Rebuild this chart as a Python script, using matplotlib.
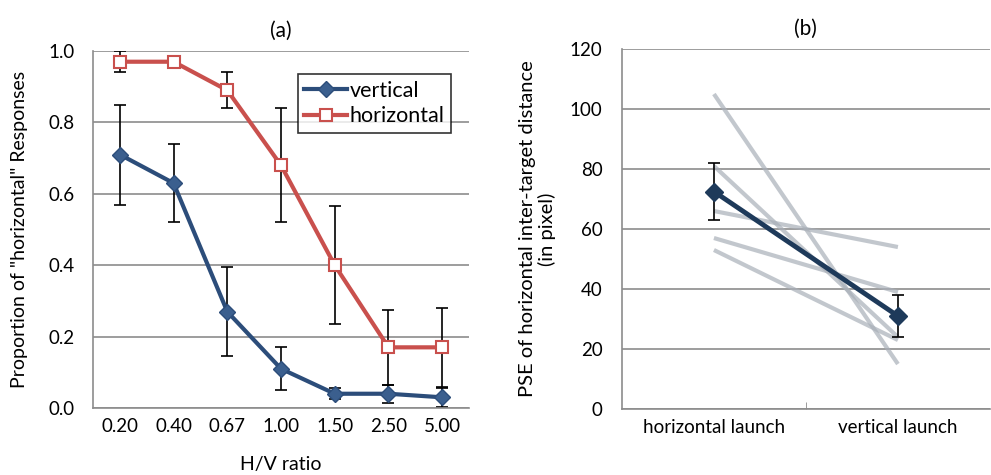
import numpy as np
import matplotlib.pyplot as plt

plt.rcParams['font.family'] = ['Lato', 'DejaVu Sans']

# panel (a)
ratios = ["0.20", "0.40", "0.67", "1.00", "1.50", "2.50", "5.00"]
vertical = [0.71, 0.63, 0.27, 0.11, 0.04, 0.04, 0.03]
vertical_err = [0.14, 0.11, 0.125, 0.06, 0.015, 0.025, 0.027]
horizontal = [0.97, 0.97, 0.89, 0.68, 0.40, 0.17, 0.17]
horizontal_err = [0.03, 0.005, 0.05, 0.16, 0.165, 0.105, 0.11]

# panel (b)
conditions = ["horizontal launch", "vertical launch"]
subjects_h = [105, 81, 66, 57, 53]
subjects_v = [15, 24, 54, 39, 23]
pse_mean = [72.5, 31]
pse_err = [9.5, 7]

blue = "#2C4D7A"
red = "#C9504D"
navy = "#1E3A5A"
grid_c = "#8C8C8C"

fig = plt.figure(figsize=(9.91, 4.75), dpi=100)

# ---- (a)
ax1 = fig.add_axes([0.0938, 0.141, 0.3795, 0.7516])
x = np.arange(len(ratios))
ax1.errorbar(x, vertical, yerr=vertical_err, fmt="none", ecolor="black",
             elinewidth=1.2, capsize=4, capthick=1.2, zorder=2)
ax1.errorbar(x, horizontal, yerr=horizontal_err, fmt="none", ecolor="black",
             elinewidth=1.2, capsize=4, capthick=1.2, zorder=2)
ax1.plot(x, vertical, color=blue, lw=3, marker="D", ms=8,
         mfc="#3B5F8E", mec=blue, label="vertical", zorder=3)
ax1.plot(x, horizontal, color=red, lw=3, marker="s", ms=8,
         mfc="white", mec=red, mew=1.5, label="horizontal", zorder=3)

ax1.set_xlim(-0.5, len(ratios) - 0.5)
ax1.set_ylim(0, 1.0)
ax1.set_yticks(np.arange(0, 1.01, 0.2))
ax1.set_yticklabels([f"{v:.1f}" for v in np.arange(0, 1.01, 0.2)])
ax1.set_xticks(x)
ax1.set_xticklabels(ratios)
ax1.tick_params(axis="x", length=0, labelsize=13.5, pad=7)
ax1.tick_params(axis="y", length=0, labelsize=13.5, pad=13)
ax1.yaxis.grid(True, color=grid_c, lw=1.2)
ax1.set_axisbelow(True)
for s in ["top", "right"]:
    ax1.spines[s].set_visible(False)
for s in ["left", "bottom"]:
    ax1.spines[s].set_color(grid_c)
    ax1.spines[s].set_linewidth(1.2)
ax1.set_xlabel("H/V ratio", fontsize=14)
ax1.xaxis.set_label_coords(0.5, -0.135)
ax1.set_ylabel('Proportion of "horizontal" Responses', fontsize=14)
ax1.yaxis.set_label_coords(-0.172, 0.5)
ax1.set_title("(a)", fontsize=15, pad=10)
leg = ax1.legend(loc="upper right", bbox_to_anchor=(0.98, 0.965), fontsize=15.5,
                 frameon=True, fancybox=False, handlelength=2.0,
                 handletextpad=0.1, borderpad=0.3, labelspacing=0.25)
leg.get_frame().set_edgecolor("black")
leg.get_frame().set_linewidth(1.2)

# ---- (b)
ax2 = fig.add_axes([0.6276, 0.1389, 0.3713, 0.7579])
xp = np.array([0.5, 1.5])
for h, v in zip(subjects_h, subjects_v):
    ax2.plot(xp, [h, v], color="#A9B0B9", lw=3, alpha=0.7, zorder=2,
             solid_capstyle="butt")
ax2.errorbar(xp, pse_mean, yerr=pse_err, fmt="none", ecolor="black",
             elinewidth=1.2, capsize=4, capthick=1.2, zorder=3)
ax2.plot(xp, pse_mean, color=navy, lw=3.5, marker="D", ms=9,
         mfc=navy, mec=navy, zorder=4)

ax2.set_xlim(0, 2)
ax2.set_ylim(0, 120)
ax2.set_yticks(np.arange(0, 121, 20))
ax2.set_xticks(xp)
ax2.set_xticklabels(conditions)
ax2.set_xticks([1.0], minor=True)
ax2.tick_params(axis="x", which="major", length=0, labelsize=13.5, pad=7)
ax2.tick_params(axis="x", which="minor", length=5, color=grid_c, direction="in")
ax2.tick_params(axis="y", length=0, labelsize=13.5, pad=14)
ax2.yaxis.grid(True, color=grid_c, lw=1.2)
ax2.set_axisbelow(True)
for s in ["top", "right"]:
    ax2.spines[s].set_visible(False)
for s in ["left", "bottom"]:
    ax2.spines[s].set_color(grid_c)
    ax2.spines[s].set_linewidth(1.2)
ax2.set_ylabel("PSE of horizontal inter-target distance\n(in pixel)",
               fontsize=14.5, linespacing=1.1)
ax2.yaxis.set_label_coords(-0.18, 0.5)
ax2.set_title("(b)", fontsize=15, pad=10)

fig.savefig("out.png", dpi=100)
